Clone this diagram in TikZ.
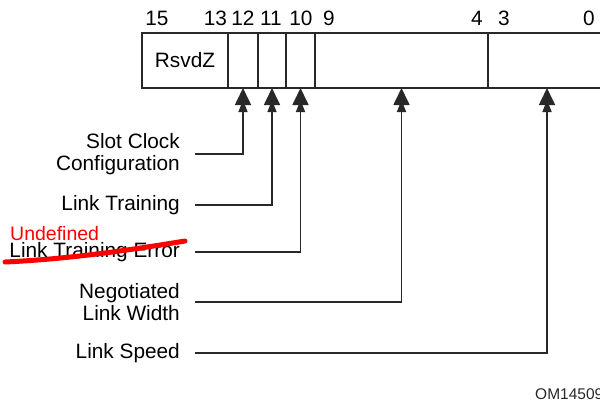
\documentclass[tikz,border=0pt]{standalone}
\usepackage{fontspec}
\setmainfont{Liberation Sans}
\usepackage{xcolor}
\usepackage{tikz}
\usetikzlibrary{arrows.meta}
\definecolor{trazo}{RGB}{40,40,40}
\definecolor{rojo}{RGB}{255,0,0}

\begin{document}
\begin{tikzpicture}[x=1pt,y=-1pt,
campo/.style={draw=trazo,line width=1.7pt,minimum height=55pt,inner sep=0pt,outer sep=0pt,font=\fontsize{20.8}{22}\selectfont},
bit/.style={anchor=base,inner sep=0pt,font=\fontsize{20.8}{22}\selectfont},
etiqueta/.style={anchor=east,align=right,inner sep=0pt,font=\fontsize{20.8}{22}\selectfont},
arr/.style={draw=trazo,line width=1.7pt,-{Triangle[length=12pt,width=9pt,sep=-5pt]Triangle[length=17pt,width=16pt]}}
]
\clip (0,0) rectangle (600,407);

\node[campo,minimum width=86pt] (f1513) at (185,60.5) {RsvdZ};
\node[campo,minimum width=30pt] (f12) at (243,60.5) {};
\node[campo,minimum width=28pt] (f11) at (272,60.5) {};
\node[campo,minimum width=29pt] (f10) at (300.5,60.5) {};
\node[campo,minimum width=173pt] (f94) at (401.5,60.5) {};
\node[campo,minimum width=118pt] (f30) at (547,60.5) {};

\node[bit] (b15) at (157,25) {15};
\node[bit] (b13) at (215.5,25) {13};
\node[bit] (b12) at (243,25) {12};
\node[bit] (b11) at (271,25) {11};
\node[bit] (b10) at (301,25) {10};
\node[bit] (b9) at (329,25) {9};
\node[bit] (b4) at (477,25) {4};
\node[bit] (b3) at (504,25) {3};
\node[bit] (b0) at (589,25) {0};

\node[etiqueta] (sck) at (180,154) {Slot Clock\\Configuration};
\node[etiqueta] (lt) at (180,205) {Link Training};
\node[etiqueta] (lte) at (180,252) {Link Training Error};
\node[etiqueta] (nlw) at (180,302) {Negotiated\\Link Width};
\node[etiqueta] (ls) at (180,353) {Link Speed};

\draw[arr] ([xshift=15pt]sck.east) -| (f12.south);
\draw[arr] ([xshift=15pt]lt.east) -| (f11.south);
\draw[arr] ([xshift=15pt]lte.east) -| (f10.south);
\draw[arr] ([xshift=15pt]nlw.east) -| (f94.south);
\draw[arr] ([xshift=15pt]ls.east) -| (f30.south);

% tachado en rojo
\node[anchor=base west,inner sep=0pt,text=rojo,font=\fontsize{19.5}{20}\selectfont] (undef) at (10,240) {Undefined};
\draw[rojo,line width=5pt,line cap=round] (5,262) .. controls (70,259) and (130,250) .. (185,241);

\node[anchor=base west,inner sep=0pt,text=trazo,font=\fontsize{15.5}{16}\selectfont] (ref) at (535,399) {OM14509};
\end{tikzpicture}
\end{document}
